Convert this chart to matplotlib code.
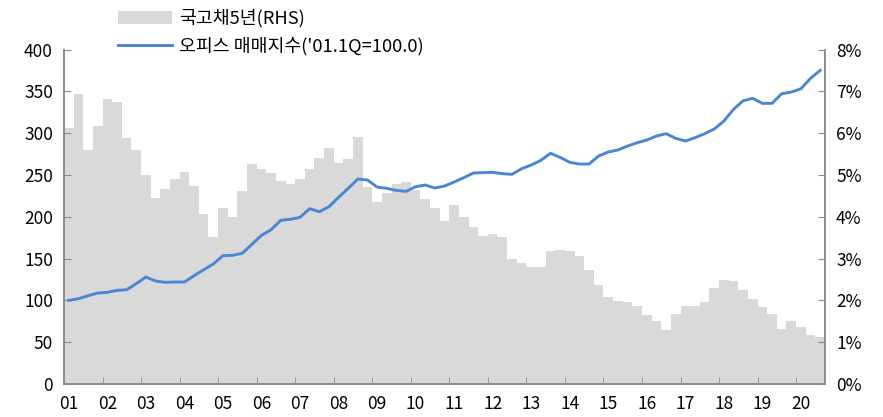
import matplotlib
matplotlib.use("Agg")
import matplotlib.pyplot as plt
import numpy as np
from matplotlib.patches import Patch
from matplotlib.lines import Line2D
from matplotlib.ticker import FixedLocator, FuncFormatter

plt.rcParams['font.family'] = ['Noto Sans CJK KR', 'DejaVu Sans']

years = ['01', '02', '03', '04', '05', '06', '07', '08', '09', '10',
         '11', '12', '13', '14', '15', '16', '17', '18', '19', '20']

# 국고채 5년 (%), quarterly 2001Q1 - 2020Q3
bond5y = [6.13, 6.93, 5.60, 6.18, 6.83, 6.74, 5.89, 5.60, 4.99, 4.46,
          4.67, 4.90, 5.06, 4.74, 4.07, 3.52, 4.22, 4.00, 4.62, 5.26,
          5.14, 5.05, 4.86, 4.78, 4.91, 5.14, 5.40, 5.65, 5.28, 5.39,
          5.90, 4.72, 4.36, 4.56, 4.78, 4.84, 4.63, 4.42, 4.20, 3.91,
          4.28, 4.00, 3.75, 3.54, 3.58, 3.51, 2.98, 2.89, 2.79, 2.81,
          3.19, 3.21, 3.19, 3.07, 2.73, 2.36, 2.07, 1.99, 1.95, 1.87,
          1.65, 1.51, 1.29, 1.67, 1.87, 1.87, 1.97, 2.29, 2.49, 2.46,
          2.24, 2.03, 1.85, 1.67, 1.32, 1.50, 1.36, 1.17, 1.12]

# 오피스 매매지수 ('01.1Q = 100.0)
office_idx = [100.0, 102.0, 105.6, 108.8, 109.6, 112.0, 112.8, 120.0, 128.0, 123.2,
              121.6, 122.0, 122.0, 129.5, 136.7, 143.5, 153.5, 153.9, 156.3, 167.0,
              177.8, 184.6, 195.8, 197.0, 199.4, 209.7, 206.1, 212.0, 223.3, 234.0,
              245.2, 244.0, 235.6, 234.0, 231.6, 230.4, 236.0, 238.0, 234.4, 236.8,
              241.6, 246.8, 252.4, 252.8, 253.2, 251.6, 250.8, 257.5, 261.9, 267.5,
              275.9, 271.1, 265.2, 263.1, 263.1, 272.7, 277.5, 279.9, 284.6, 288.6,
              291.8, 296.6, 299.4, 293.9, 290.6, 294.6, 299.4, 305.0, 314.5, 328.5,
              338.8, 341.7, 335.7, 335.7, 347.2, 349.2, 353.2, 365.6, 375.2]

label_bar = '국고채5년(RHS)'
label_line = "오피스 매매지수('01.1Q=100.0)"

bar_color = '#d9d9d9'
line_color = '#4a86d6'
spine_color = '#8c8c8c'
fs = 12.5

n = len(bond5y)
x = np.arange(n)

fig = plt.figure(figsize=(8.83, 4.17), dpi=100)
ax = fig.add_axes([64/883, 1-384/417, (825-64)/883, (384-49.6)/417])
axr = ax.twinx()

axr.bar(x, bond5y, width=1.0, color=bar_color, edgecolor='none', zorder=1)
ax.plot(x, office_idx, color=line_color, lw=2.1, zorder=3, solid_joinstyle='round')

ax.set_zorder(axr.get_zorder() + 1)
ax.patch.set_visible(False)

ax.set_xlim(-0.5, n - 0.5)
ax.set_ylim(0, 400)
axr.set_ylim(0, 8)
ax.set_yticks(np.arange(0, 401, 50))
axr.set_yticks(np.arange(0, 9, 1))
axr.yaxis.set_major_formatter(FuncFormatter(lambda v, p: f'{int(v)}%'))

ax.set_xticks(np.arange(0, n, 4))
ax.set_xticklabels(years)
ax.xaxis.set_minor_locator(FixedLocator(np.arange(3.5, n - 1, 4)))

for a in (ax, axr):
    a.spines['top'].set_visible(False)
    for s in ('left', 'right', 'bottom'):
        a.spines[s].set_color(spine_color)
        a.spines[s].set_linewidth(1.2)

ax.tick_params(axis='x', which='major', length=0, pad=8, labelsize=fs)
ax.tick_params(axis='x', which='minor', direction='in', length=5, color=spine_color)
ax.tick_params(axis='y', direction='in', length=5, color=spine_color, labelsize=fs, pad=8)
axr.tick_params(axis='y', direction='in', length=5, color=spine_color, labelsize=fs, pad=8)

handles = [Patch(facecolor=bar_color, edgecolor='none'),
           Line2D([0], [0], color=line_color, lw=2.1)]
ax.legend(handles, [label_bar, label_line], loc='upper left',
          bbox_to_anchor=(118/883, 0.978), bbox_transform=fig.transFigure,
          frameon=False, fontsize=13.2, handlelength=2.95, handleheight=0.7,
          handletextpad=0.4, labelspacing=0.5, borderpad=0, borderaxespad=0)

fig.savefig('out.png', dpi=100)
